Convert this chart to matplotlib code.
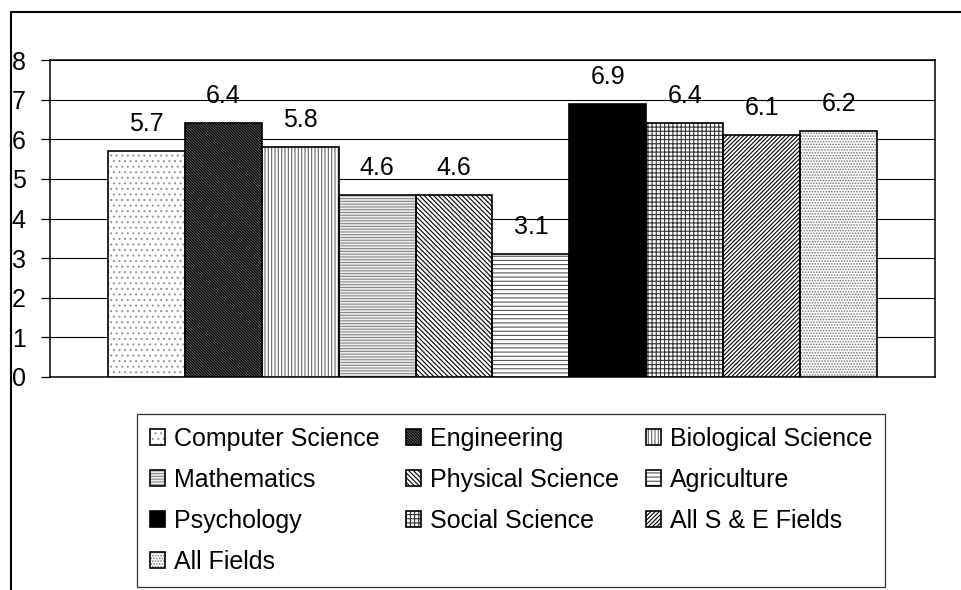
import matplotlib
matplotlib.use("Agg")
import matplotlib.pyplot as plt
from matplotlib.patches import Rectangle
from matplotlib.legend_handler import HandlerTuple

fields = ["Computer Science", "Engineering", "Biological Science", "Mathematics",
          "Physical Science", "Agriculture", "Psychology", "Social Science",
          "All S & E Fields", "All Fields"]
values = [5.7, 6.4, 5.8, 4.6, 4.6, 3.1, 6.9, 6.4, 6.1, 6.2]
yticks = [0, 1, 2, 3, 4, 5, 6, 7, 8]

# style per bar: (facecolor, hatch, hatch colour)
styles = [
    ("white", "...", "#999999"),
    ("#666666", "\\" * 12, "black"),
    ("white", "|" * 5, "#666666"),
    ("#eeeeee", "-" * 6, "#888888"),
    ("white", "\\" * 7, "black"),
    ("white", "-" * 4, "#555555"),
    ("black", "", "black"),
    ("white", "+" * 4, "#333333"),
    ("white", "/" * 8, "black"),
    ("white", "." * 6, "#777777"),
]

plt.rcParams['font.family'] = ['Liberation Sans', 'DejaVu Sans']
plt.rcParams['hatch.linewidth'] = 0.8
FS = 18

fig = plt.figure(figsize=(9.61, 5.90), dpi=100)
ax = fig.add_axes([50/961, 1-377/590, (935-50)/961, (377-60)/590])

handles = []
for i, (name, v) in enumerate(zip(fields, values)):
    fc, hatch, hc = styles[i]
    b1 = ax.bar(i, v, width=1.0, align='edge', color=fc, edgecolor=hc,
                hatch=hatch, linewidth=0, zorder=3)
    b2 = ax.bar(i, v, width=1.0, align='edge', fill=False, edgecolor='black',
                linewidth=1.2, zorder=4)
    ax.text(i + 0.5, v + 0.38, f"{v:.1f}", ha='center', va='bottom',
            fontsize=FS, zorder=5)
    handles.append((b1.patches[0], b2.patches[0]))

ax.set_xlim(-0.747, 10.747)
ax.set_ylim(0, 8)
ax.set_yticks(yticks)
ax.set_yticklabels([str(t) for t in yticks], fontsize=FS)
ax.set_xticks([])
ax.tick_params(axis='y', direction='out', length=6.5, width=0.9, pad=11)
for s in ax.spines.values():
    s.set_linewidth(1.1)
    s.set_color('black')
ax.yaxis.grid(True, color='black', linewidth=0.8, zorder=0)
ax.set_axisbelow(True)

# legend: matplotlib fills column-major; rearrange so rows read in field order
ncol = 3
nrow = (len(fields) + ncol - 1) // ncol
slots = [None] * (nrow * ncol)
for k in range(len(fields)):
    r, c = divmod(k, ncol)
    slots[c * nrow + r] = k
idx = [k for k in slots if k is not None]
leg = fig.legend([handles[k] for k in idx], [fields[k] for k in idx], ncol=ncol,
                 fontsize=FS, mode='expand',
                 handler_map={tuple: HandlerTuple(ndivide=1)},
                 loc='upper left',
                 bbox_to_anchor=(137/961, 1-414/590, 748/961, 0.0),
                 frameon=True, fancybox=False, edgecolor='black',
                 handlelength=0.6, handleheight=0.6, handletextpad=0.35,
                 columnspacing=1.0, labelspacing=0.68, borderpad=0.52,
                 borderaxespad=0.0)
leg.get_frame().set_linewidth(0.9)

fig.patches.append(Rectangle((11/961, -0.1), 1.2, 1.1 - 12/590,
                             transform=fig.transFigure, fill=False,
                             edgecolor='black', linewidth=1.5))

fig.savefig("out.png", dpi=100)
